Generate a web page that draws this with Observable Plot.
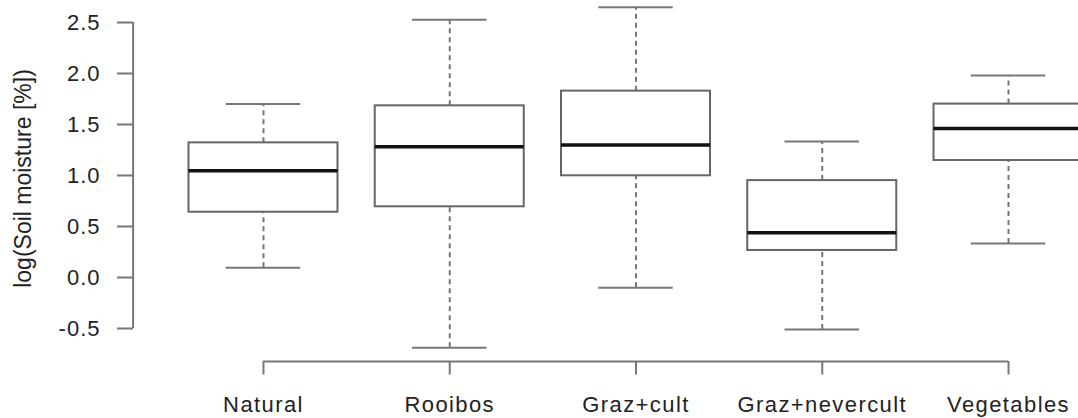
<!DOCTYPE html>
<html>
<head>
<meta charset="utf-8">
<script src="https://cdn.jsdelivr.net/npm/d3@7"></script>
<script src="https://cdn.jsdelivr.net/npm/@observablehq/plot@0.6"></script>
<style>
  html, body { margin: 0; padding: 0; background: #fff; }
  g[aria-label="x-axis tick label"] text { letter-spacing: 1.4px; }
  g[aria-label="y-axis tick label"] text { letter-spacing: 1px; }
</style>
</head>
<body>
<div id="chart"></div>
<script>
// Data
const categories = ["Natural", "Rooibos", "Graz+cult", "Graz+nevercult", "Vegetables"];
const whiskerLow  = [0.095, -0.69, -0.10, -0.51, 0.333];
const q1          = [0.64, 0.693, 0.997, 0.265, 1.147];
const median      = [1.046, 1.281, 1.30, 0.438, 1.46];
const q3          = [1.32, 1.683, 1.827, 0.95, 1.70];
const whiskerHigh = [1.70, 2.526, 2.65, 1.333, 1.98];
const yTicks = [-0.5, 0.0, 0.5, 1.0, 1.5, 2.0, 2.5];
const yLabel = "log(Soil moisture [%])";

const rows = categories.map((c, i) => ({
  pos: i + 1, name: c,
  lo: whiskerLow[i], q1: q1[i], med: median[i], q3: q3[i], hi: whiskerHigh[i]
}));

// R-style plot region: xlim = [0.5, n+0.5] and 4% padding on both axes
const n = categories.length;
const xPad = 0.04 * n;
const xDomain = [0.5 - xPad, n + 0.5 + xPad];
const yMin = d3.min(whiskerLow), yMax = d3.max(whiskerHigh);
const yPad = 0.04 * (yMax - yMin);
const yDomain = [yMin - yPad, yMax + yPad];

const gray = "#777";
const boxW = 0.4, capW = 0.2;

const chart = Plot.plot({
  width: 1078,
  height: 418,
  marginLeft: 133,
  marginBottom: 57,
  marginTop: 0,
  marginRight: 0,
  style: { fontFamily: "'Liberation Sans', Arial, sans-serif", fontSize: "22px", color: "#222", background: "#fff" },
  x: { type: "linear", domain: xDomain, range: [132.6, 1138.4] },
  y: { type: "linear", domain: yDomain, range: [361, 22 - (yDomain[1] - 2.5) * 102] },
  marks: [
    // whiskers (dashed)
    Plot.ruleX(rows, { x: "pos", y1: "q3", y2: "hi", stroke: gray, strokeWidth: 2, strokeDasharray: "5,4" }),
    Plot.ruleX(rows, { x: "pos", y1: "lo", y2: "q1", stroke: gray, strokeWidth: 2, strokeDasharray: "5,4" }),
    // whisker caps
    Plot.ruleY(rows, { y: "hi", x1: d => d.pos - capW, x2: d => d.pos + capW, stroke: gray, strokeWidth: 2 }),
    Plot.ruleY(rows, { y: "lo", x1: d => d.pos - capW, x2: d => d.pos + capW, stroke: gray, strokeWidth: 2 }),
    // boxes
    Plot.rect(rows, { x1: d => d.pos - boxW, x2: d => d.pos + boxW, y1: "q1", y2: "q3", fill: "#fff", stroke: "#666", strokeWidth: 2 }),
    // medians
    Plot.ruleY(rows, { y: "med", x1: d => d.pos - boxW, x2: d => d.pos + boxW, stroke: "#111", strokeWidth: 3.5 }),
    // axis lines (R-style, only over the tick range)
    Plot.ruleX([xDomain[0]], { y1: yTicks[0], y2: yTicks[yTicks.length - 1], stroke: gray, strokeWidth: 2 }),
    Plot.ruleY([yDomain[0]], { x1: 1, x2: n, stroke: gray, strokeWidth: 2 }),
    Plot.axisY({ ticks: yTicks, tickFormat: d => d.toFixed(1), tickSize: 16, tickPadding: 17, stroke: gray, strokeWidth: 2, label: null, fontSize: 22 }),
    Plot.axisX({ ticks: d3.range(1, n + 1), tickFormat: d => categories[d - 1], tickSize: 13.5, tickPadding: 21, stroke: gray, strokeWidth: 2, label: null, fontSize: 22 }),
    Plot.text([yLabel], { frameAnchor: "left", dx: -110, dy: -2.5, rotate: -90, fontSize: 23, fill: "#222", lineAnchor: "middle", textAnchor: "middle" })
  ]
});
document.getElementById("chart").appendChild(chart);
</script>
</body>
</html>
